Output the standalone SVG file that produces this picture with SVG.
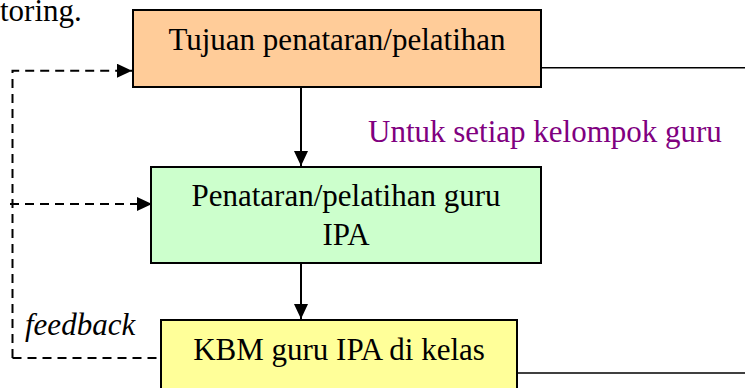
<svg xmlns="http://www.w3.org/2000/svg" width="745" height="388" viewBox="0 0 745 388">
<style>
text{font-family:"Liberation Serif","Times New Roman",serif;font-size:31px;fill:#000}
.box{stroke:#000;stroke-width:2}
.ln{fill:none;stroke:#000;stroke-width:2}
.thin{fill:none;stroke:#000;stroke-width:1.5}
.dash{fill:none;stroke:#000;stroke-width:2;stroke-dasharray:9 6}
</style>
<defs>
<marker id="ah" markerUnits="userSpaceOnUse" markerWidth="15" markerHeight="14" refX="15" refY="7" orient="auto">
<path d="M0,0 L15,7 L0,14 Z" fill="#000"/>
</marker>
</defs>
<text x="0" y="21">toring.</text>
<g id="connectors">
<path class="dash" d="M12.5,358 V70.7 H132" marker-end="url(#ah)"/>
<path class="dash" d="M10,204 H152" marker-end="url(#ah)"/>
<path class="dash" d="M12.5,358 H160"/>
<path class="ln" d="M301,87 V166" marker-end="url(#ah)"/>
<path class="ln" d="M301,263 V319" marker-end="url(#ah)"/>
<path class="thin" d="M541,67.7 H745"/>
<path class="thin" d="M517,373 H745"/>
<text x="368" y="141.5" style="fill:#800080">Untuk setiap kelompok guru</text>
<text x="25" y="335" style="font-style:italic">feedback</text>
</g>
<g id="tujuan">
<rect class="box" x="133" y="10" width="408" height="77" fill="#FFCC99"/>
<text x="337" y="50" text-anchor="middle">Tujuan penataran/pelatihan</text>
</g>
<g id="penataran">
<rect class="box" x="151" y="167" width="390" height="96" fill="#CCFFCC"/>
<text x="346" y="206" text-anchor="middle">Penataran/pelatihan guru</text>
<text x="346" y="245" text-anchor="middle">IPA</text>
</g>
<g id="kbm">
<rect class="box" x="161" y="320" width="356" height="80" fill="#FFFF99"/>
<text x="339" y="360" text-anchor="middle">KBM guru IPA di kelas</text>
</g>
</svg>
